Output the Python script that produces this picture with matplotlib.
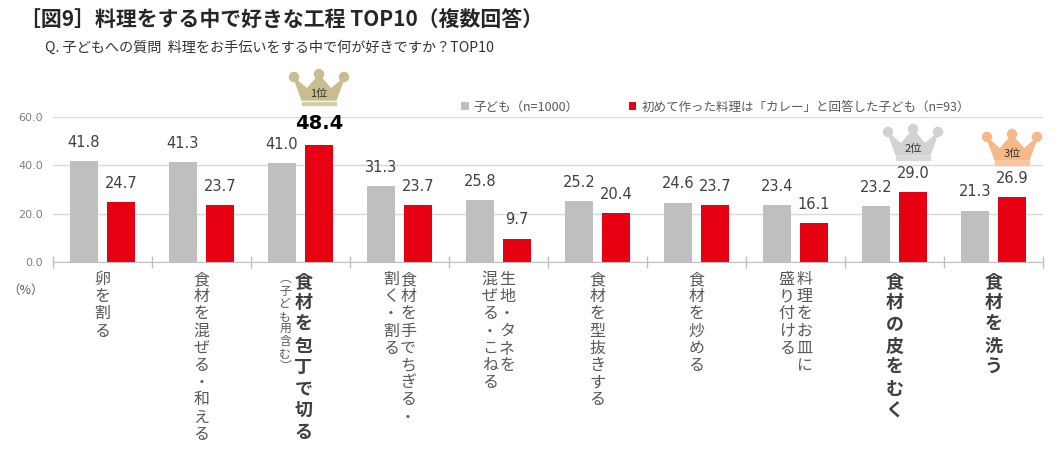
import numpy as np
import matplotlib
matplotlib.use('Agg')
import matplotlib.pyplot as plt
import matplotlib.patches as mpatches
import matplotlib.transforms as mtransforms

plt.rcParams['font.family'] = ['Noto Sans CJK JP', 'DejaVu Sans']

title = '［図9］料理をする中で好きな工程 TOP10（複数回答）'
subtitle = 'Q. 子どもへの質問  料理をお手伝いをする中で何が好きですか？TOP10'
series_names = ['子ども（n=1000）', '初めて作った料理は「カレー」と回答した子ども（n=93）']

children_all = [41.8, 41.3, 41.0, 31.3, 25.8, 25.2, 24.6, 23.4, 23.2, 21.3]
children_curry = [24.7, 23.7, 48.4, 23.7, 9.7, 20.4, 23.7, 16.1, 29.0, 26.9]

# vertical tick labels, one string per column (right-hand column first)
category_cols = [
    ['卵を割る'],
    ['食材を混ぜる・和える'],
    ['食材を包丁で切る'],
    ['食材を手でちぎる・', '割く・割る'],
    ['生地・タネを', '混ぜる・こねる'],
    ['食材を型抜きする'],
    ['食材を炒める'],
    ['料理をお皿に', '盛り付ける'],
    ['食材の皮をむく'],
    ['食材を洗う'],
]
category_notes = ['', '', '（子ども用含む）', '', '', '', '', '', '', '']
bold_idx = [2, 8, 9]

yticks = [0, 20, 40, 60]

rank_idx = [2, 8, 9]
rank_labels = ['1位', '2位', '3位']

GRAY = '#bfbfbf'
RED = '#e60012'
TXT = '#595959'

fig = plt.figure(figsize=(10.64, 4.55), dpi=100)
ax = fig.add_axes([53 / 1064, 1 - 262 / 455, 990 / 1064, 145 / 455])

x = np.arange(len(children_all))
off = 0.187
w = 0.29
ax.bar(x - off, children_all, w, color=GRAY, label=series_names[0], zorder=2)
ax.bar(x + off, children_curry, w, color=RED, label=series_names[1], zorder=2)

ax.set_xlim(-0.5, 9.5)
ax.set_ylim(0, 60)
ax.set_yticks(yticks)
ax.set_yticklabels([f'{v:.1f}' for v in yticks], fontsize=8, color='#7f7f7f',
                   family='DejaVu Sans')
ax.tick_params(axis='y', length=0, pad=7)
ax.set_xticks([])
ax.set_xticks(np.arange(-0.5, 10, 1), minor=True)
ax.tick_params(axis='x', which='minor', length=9, direction='inout', color=GRAY, width=1)
ax.grid(axis='y', color='#d9d9d9', lw=1, zorder=0)
ax.set_axisbelow(True)
for s in ['left', 'right', 'top']:
    ax.spines[s].set_visible(False)
ax.spines['bottom'].set_color(GRAY)

# value labels
for i, v in enumerate(children_all):
    ax.annotate(f'{v:.1f}', (x[i] - off, v), xytext=(0, 8), textcoords='offset points',
                ha='center', va='bottom', fontsize=10.5, color='#404040', family='DejaVu Sans')
for i, v in enumerate(children_curry):
    if v == max(children_curry):
        ax.annotate(f'{v:.1f}', (x[i] + off, v), xytext=(0, 9), textcoords='offset points',
                    ha='center', va='bottom', fontsize=14, fontweight='bold', color='black',
                    family='DejaVu Sans')
    else:
        ax.annotate(f'{v:.1f}', (x[i] + off, v), xytext=(0, 8), textcoords='offset points',
                    ha='center', va='bottom', fontsize=10.5, color='#404040', family='DejaVu Sans')

# vertical category labels
vert = str.maketrans({'（': '︵', '）': '︶'})
xt = ax.get_xaxis_transform()
for i, cols in enumerate(category_cols):
    bold = i in bold_idx
    fs = 13 if bold else 11.5
    pitch = 15.5 if bold else 12.4
    top = 14 if bold else 12.5
    n = len(cols)
    shift = 2 if category_notes[i] else 0
    for c, col in enumerate(cols):
        dx = ((n - 1) / 2 - c) * 12.5 + shift
        for k, ch in enumerate(col):
            ax.annotate(ch, (x[i], 0), xycoords=xt, xytext=(dx, -top - k * pitch),
                        textcoords='offset points', ha='center', va='center', fontsize=fs,
                        fontweight='bold' if bold else 'normal',
                        color='#404040' if bold else TXT)
    if category_notes[i]:
        for k, ch in enumerate(category_notes[i].translate(vert)):
            ax.annotate(ch, (x[i], 0), xycoords=xt, xytext=(-11, -12 - k * 9),
                        textcoords='offset points', ha='center', va='center', fontsize=8.5,
                        color=TXT)

# crowns over the top three red bars
crown_colors = [('#c9bd90', '#d6cca6'), ('#d2d2d2', '#dadada'), ('#f6b886', '#f8c59c')]
crown_lift = [40, 32, 32]


def draw_crown(xd, yd, lift, body_c, band_c, label):
    tr = mtransforms.Affine2D().translate(0, lift) + \
        mtransforms.ScaledTranslation(xd, yd, ax.transData)
    band = mpatches.Rectangle((-17, 0), 34, 3.5, color=band_c, transform=tr, clip_on=False)
    body = mpatches.Polygon([(-17, 5), (17, 5), (25, 27), (12, 16), (0, 30),
                             (-12, 16), (-25, 27)], closed=True, color=body_c,
                            transform=tr, clip_on=False)
    ax.add_patch(band)
    ax.add_patch(body)
    for cx, cy in [(-25, 28), (0, 31), (25, 28)]:
        ax.add_patch(mpatches.Circle((cx, cy), 4.5, color=body_c, transform=tr, clip_on=False))
    ax.text(0, 11, label, transform=tr, ha='center', va='center', fontsize=8,
            color='#333333', clip_on=False)


for r, i in enumerate(rank_idx):
    draw_crown(x[i] + off, children_curry[i], crown_lift[r], crown_colors[r][0],
               crown_colors[r][1], rank_labels[r])

# legend
ax.legend(loc='center left', bbox_to_anchor=(455 / 1064, 1 - 107 / 455),
          bbox_transform=fig.transFigure, ncol=2, frameon=False, fontsize=9,
          handlelength=0.6, handleheight=0.6, handletextpad=0.4, columnspacing=4.0,
          borderpad=0, labelcolor=TXT)

fig.text(20 / 1064, 1 - 20 / 455, title, fontsize=15, fontweight='bold', color='#262626',
         va='center', ha='left')
fig.text(45 / 1064, 1 - 48 / 455, subtitle, fontsize=10.2, color='#333333',
         va='center', ha='left')
fig.text(26 / 1064, 1 - 290 / 455, '（%）', fontsize=9, color=TXT, ha='center', va='center')

fig.savefig('out.png', dpi=100)
